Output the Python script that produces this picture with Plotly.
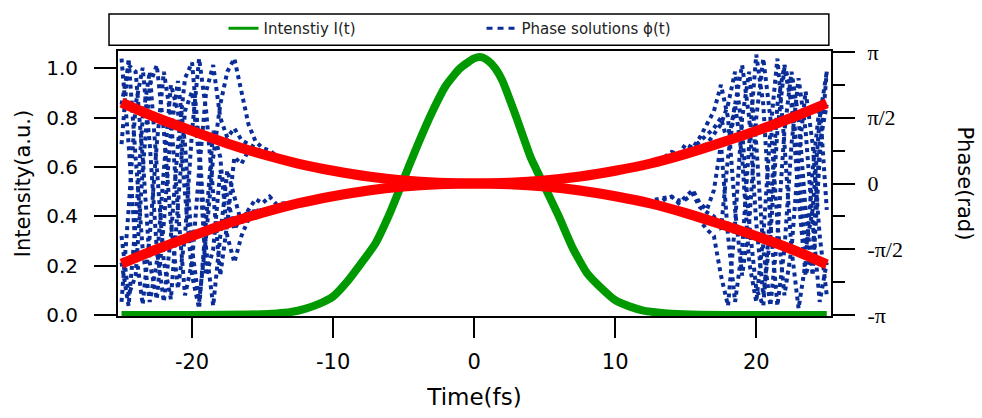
import plotly.graph_objects as go

# ---------------- data ----------------
# Intensity I(t), left axis (a.u.)
t_int = [-25, -20, -16, -14, -13, -12, -11, -10, -9, -8, -7, -6, -5, -4, -3, -2, -1, 0, 0.5, 1,
         1.5, 2, 3, 4, 5, 6, 7, 8, 9, 10, 11, 12, 13, 14, 16, 20, 25]
intensity = [0, 0, 0.002, 0.006, 0.012, 0.025, 0.045, 0.075, 0.135, 0.21, 0.29, 0.41, 0.55, 0.69, 0.82,
             0.93, 1.00, 1.04, 1.045, 1.03, 1.0, 0.95, 0.80, 0.64, 0.52, 0.40, 0.27, 0.17, 0.11, 0.06,
             0.035, 0.018, 0.01, 0.005, 0.001, 0, 0]

# Phase solutions phi(t), right axis, in units of pi
t_phase = [-25.0, -24.5, -24.0, -23.5, -23.0, -22.5, -22.0, -21.5, -21.0, -20.5, -20.0, -19.5, -19.0,
           -18.5, -18.0, -17.5, -17.0, -16.5, -16.0, -15.5, -15.0, -14.5, -14.0, -13.5, -13.0, -12.5, -12.0,
           -10.0, -7.5, -5.0, -2.5, 0.0, 2.5, 5.0, 7.5, 10.0,
           12.0, 12.5, 13.0, 13.5, 14.0, 14.5, 15.0, 15.5, 16.0, 16.5, 17.0, 17.5, 18.0, 18.5, 19.0,
           19.5, 20.0, 20.5, 21.0, 21.5, 22.0, 22.5, 23.0, 23.5, 24.0, 24.5, 25.0]

phase_sol_1 = [0.95, 0.3, -0.5, -0.92, -0.4, 0.3, 0.85, 0.5, -0.2, -0.85, -0.6, 0.1, 0.7, 0.9, 0.5, 0.35,
               0.42, 0.33, 0.30, 0.27, 0.24, 0.22, 0.2, 0.18, 0.16, 0.15, 0.14,
               0.095, 0.052, 0.022, 0.005, 0.0, 0.005, 0.022, 0.052, 0.097,
               0.14, 0.15, 0.17, 0.2, 0.2, 0.22, 0.24, 0.28, 0.27, 0.3, 0.38, 0.45, 0.6, 0.85, 0.4, -0.3,
               -0.8, -0.93, -0.2, 0.6, 0.9, 0.7, 0.1, -0.5, -0.2, 0.5, 0.85]
phase_sol_2 = [0.6, 0.9, 0.85, 0.2, -0.6, -0.88, -0.3, 0.4, 0.78, 0.3, -0.5, -0.9, -0.4, 0.2, 0.6, 0.85,
               0.95, 0.7, 0.45, 0.32, 0.27, 0.25, 0.21, 0.19, 0.17, 0.155, 0.14,
               0.1, 0.055, 0.025, 0.007, 0.002, 0.007, 0.025, 0.055, 0.1,
               0.14, 0.16, 0.17, 0.2, 0.24, 0.22, 0.3, 0.27, 0.35, 0.45, 0.55, 0.75, 0.5, -0.2, -0.7, -0.3,
               0.5, 0.95, 0.5, -0.3, -0.85, -0.5, 0.2, 0.7, 0.3, -0.4, -0.85]
phase_sol_3 = [-0.9, -0.2, 0.6, 0.88, 0.3, -0.5, -0.9, -0.4, 0.3, 0.8, 0.92, 0.3, -0.5, -0.93, -0.4, 0.1,
               -0.1, -0.3, -0.2, -0.12, -0.15, -0.1, -0.16, -0.15, -0.15, -0.14, -0.13,
               -0.095, -0.052, -0.022, -0.005, 0.0, -0.005, -0.022, -0.052, -0.095,
               -0.13, -0.13, -0.12, -0.11, -0.1, -0.15, -0.1, -0.05, -0.15, -0.2, -0.05, 0.3, -0.4, -0.9,
               -0.5, 0.3, 0.98, 0.6, -0.3, -0.93, -0.5, 0.3, 0.8, 0.4, -0.3, -0.9, -0.6]
phase_sol_4 = [0.3, 0.95, 0.2, -0.5, -0.9, -0.6, 0.1, 0.75, 0.55, -0.1, -0.7, -0.95, -0.3, 0.4, 0.2, -0.4,
               -0.6, -0.4, -0.27, -0.2, -0.22, -0.21, -0.2, -0.18, -0.17, -0.155, -0.14,
               -0.1, -0.055, -0.025, -0.007, -0.002, -0.007, -0.025, -0.055, -0.1,
               -0.14, -0.15, -0.17, -0.18, -0.2, -0.22, -0.24, -0.26, -0.28, -0.35, -0.4, -0.7, -0.93, -0.3,
               0.5, 0.85, 0.3, -0.5, -0.93, -0.4, 0.4, 0.85, 0.5, -0.2, -0.7, 0.2, 0.85]
phase_sol_5 = [-0.4, -0.85, -0.7, 0.1, 0.75, 0.9, 0.4, -0.3, -0.8, -0.4, 0.4, 0.95, 0.55, -0.1, -0.7, -0.3,
               0.2, 0.15, 0.25, 0.24, 0.22, 0.21, 0.2, 0.18, 0.17, 0.15, 0.135,
               0.095, 0.05, 0.02, 0.004, 0.0, 0.004, 0.02, 0.05, 0.095,
               0.135, 0.15, 0.18, 0.19, 0.2, 0.23, 0.25, 0.27, 0.32, 0.37, 0.42, 0.5, 0.3, 0.6, 0.9, 0.5,
               -0.3, -0.85, -0.4, 0.4, 0.88, 0.6, -0.1, -0.7, -0.5, 0.3, 0.6]
phase_sol_6 = [-0.6, -0.93, -0.3, 0.5, 0.85, 0.1, -0.6, -0.88, -0.2, 0.55, 0.7, 0.2, -0.7, -0.5, 0.1, -0.1,
               -0.35, -0.25, -0.22, -0.21, -0.2, -0.19, -0.18, -0.17, -0.16, -0.15, -0.135,
               -0.095, -0.05, -0.02, -0.004, 0.0, -0.004, -0.02, -0.05, -0.095,
               -0.135, -0.15, -0.16, -0.12, -0.1, -0.13, -0.12, -0.08, -0.18, -0.22, -0.25, -0.35, 0.2, 0.6,
               0.2, -0.6, -0.9, -0.4, 0.4, 0.95, 0.3, -0.5, -0.95, -0.6, 0.1, 0.6, -0.2]

# Red retrieved phase curves (units of pi)
t_red = [-25, -22.5, -20, -17.5, -15, -12.5, -10, -7.5, -5, -2.5, 0, 2.5, 5, 7.5, 10, 12.5, 15, 17.5, 20, 22.5, 25]
red_upper = [0.615, 0.50, 0.40, 0.305, 0.222, 0.152, 0.097, 0.053, 0.023, 0.006, 0.0, 0.006, 0.023, 0.053,
             0.097, 0.152, 0.225, 0.31, 0.40, 0.50, 0.61]
red_lower = [-0.61, -0.50, -0.40, -0.305, -0.222, -0.152, -0.097, -0.053, -0.023, -0.006, 0.0, -0.006, -0.023,
             -0.053, -0.097, -0.152, -0.225, -0.31, -0.40, -0.50, -0.615]

x_ticks = [-20, -10, 0, 10, 20]
x_ticktext = ["-20", "-10", "0", "10", "20"]
y_ticks = [0.0, 0.2, 0.4, 0.6, 0.8, 1.0]
y_ticktext = ["0.0", "0.2", "0.4", "0.6", "0.8", "1.0"]
phase_ticks = [-1, -0.5, 0, 0.5, 1]
phase_ticktext = ["-π", "-π/2", "0", "π/2", "π"]
phase_minor = [-0.75, -0.25, 0.25, 0.75]

# ---------------- styles ----------------
GREEN = "#009a00"
BLUE = "#0a2d98"
RED = "#ff0000"
SANS = "DejaVu Sans"

fig = go.Figure()

fig.add_trace(go.Scatter(x=t_int, y=intensity, mode="lines", yaxis="y",
                         line=dict(color=GREEN, width=8, shape="spline", smoothing=0.5),
                         showlegend=False, hoverinfo="skip"))

for sol in [phase_sol_1, phase_sol_2, phase_sol_3, phase_sol_4, phase_sol_5, phase_sol_6]:
    fig.add_trace(go.Scatter(x=t_phase, y=sol, mode="lines", yaxis="y2",
                             line=dict(color=BLUE, width=4, dash="dot"),
                             showlegend=False, hoverinfo="skip"))

for red in [red_upper, red_lower]:
    fig.add_trace(go.Scatter(x=t_red, y=red, mode="lines", yaxis="y2",
                             line=dict(color=RED, width=10, shape="spline"),
                             showlegend=False, hoverinfo="skip"))

# legend entries
fig.add_trace(go.Scatter(x=[None], y=[None], mode="lines", name="Intenstiy I(t)",
                         line=dict(color=GREEN, width=3)))
fig.add_trace(go.Scatter(x=[None], y=[None], mode="lines", name="Phase solutions ϕ(t)", yaxis="y2",
                         line=dict(color=BLUE, width=3, dash="6px,5px")))

fig.update_layout(
    width=982, height=418,
    margin=dict(l=118, r=151, t=44, b=102),
    paper_bgcolor="white", plot_bgcolor="white",
    font=dict(family=SANS, color="black"),
    legend=dict(orientation="h", x=0.148, xanchor="left", y=1.085, yanchor="middle",
                font=dict(family=SANS, size=15, color="#222222"),
                bgcolor="rgba(0,0,0,0)", borderwidth=0,
                entrywidth=213, entrywidthmode="pixels", itemwidth=30),
    xaxis=dict(range=[-25.25, 25.3], tickmode="array", tickvals=x_ticks, ticktext=x_ticktext,
               ticks="outside", ticklen=20, tickwidth=2, tickcolor="black",
               showline=True, linewidth=2, linecolor="black", mirror=True,
               showgrid=False, zeroline=False, ticklabelstandoff=6,
               tickfont=dict(family=SANS, size=21, color="black"),
               title=dict(text="Time(fs)", font=dict(family=SANS, size=23, color="black"), standoff=16)),
    yaxis=dict(range=[-0.004, 1.07], tickmode="array", tickvals=y_ticks, ticktext=y_ticktext,
               ticks="outside", ticklen=22, tickwidth=2, tickcolor="black",
               showline=True, linewidth=2, linecolor="black",
               showgrid=False, zeroline=False, ticklabelstandoff=12,
               tickfont=dict(family=SANS, size=20, color="black"),
               title=dict(text="Intensity(a.u.)", font=dict(family=SANS, size=21, color="black"), standoff=10)),
    yaxis2=dict(overlaying="y", side="right", range=[-1.0074, 1.0074],
                tickmode="array", tickvals=phase_ticks, ticktext=phase_ticktext,
                ticks="outside", ticklen=22, tickwidth=2, tickcolor="black",
                minor=dict(tickvals=phase_minor, ticks="outside", ticklen=12, tickwidth=2, tickcolor="black"),
                showline=True, linewidth=2, linecolor="black",
                showgrid=False, zeroline=False, ticklabelstandoff=8,
                tickfont=dict(family="Liberation Serif", size=22, color="black")),
    shapes=[dict(type="rect", xref="paper", yref="paper", x0=-0.0126, x1=0.997, y0=1.022, y1=1.14,
                 line=dict(color="black", width=1.5), fillcolor="rgba(0,0,0,0)")],
    annotations=[dict(text="Phase(rad)", xref="paper", yref="paper", x=1.188, y=0.5,
                      xanchor="center", yanchor="middle", textangle=90, showarrow=False,
                      font=dict(family=SANS, size=21, color="black"))],
)

fig.write_html("out.html")
